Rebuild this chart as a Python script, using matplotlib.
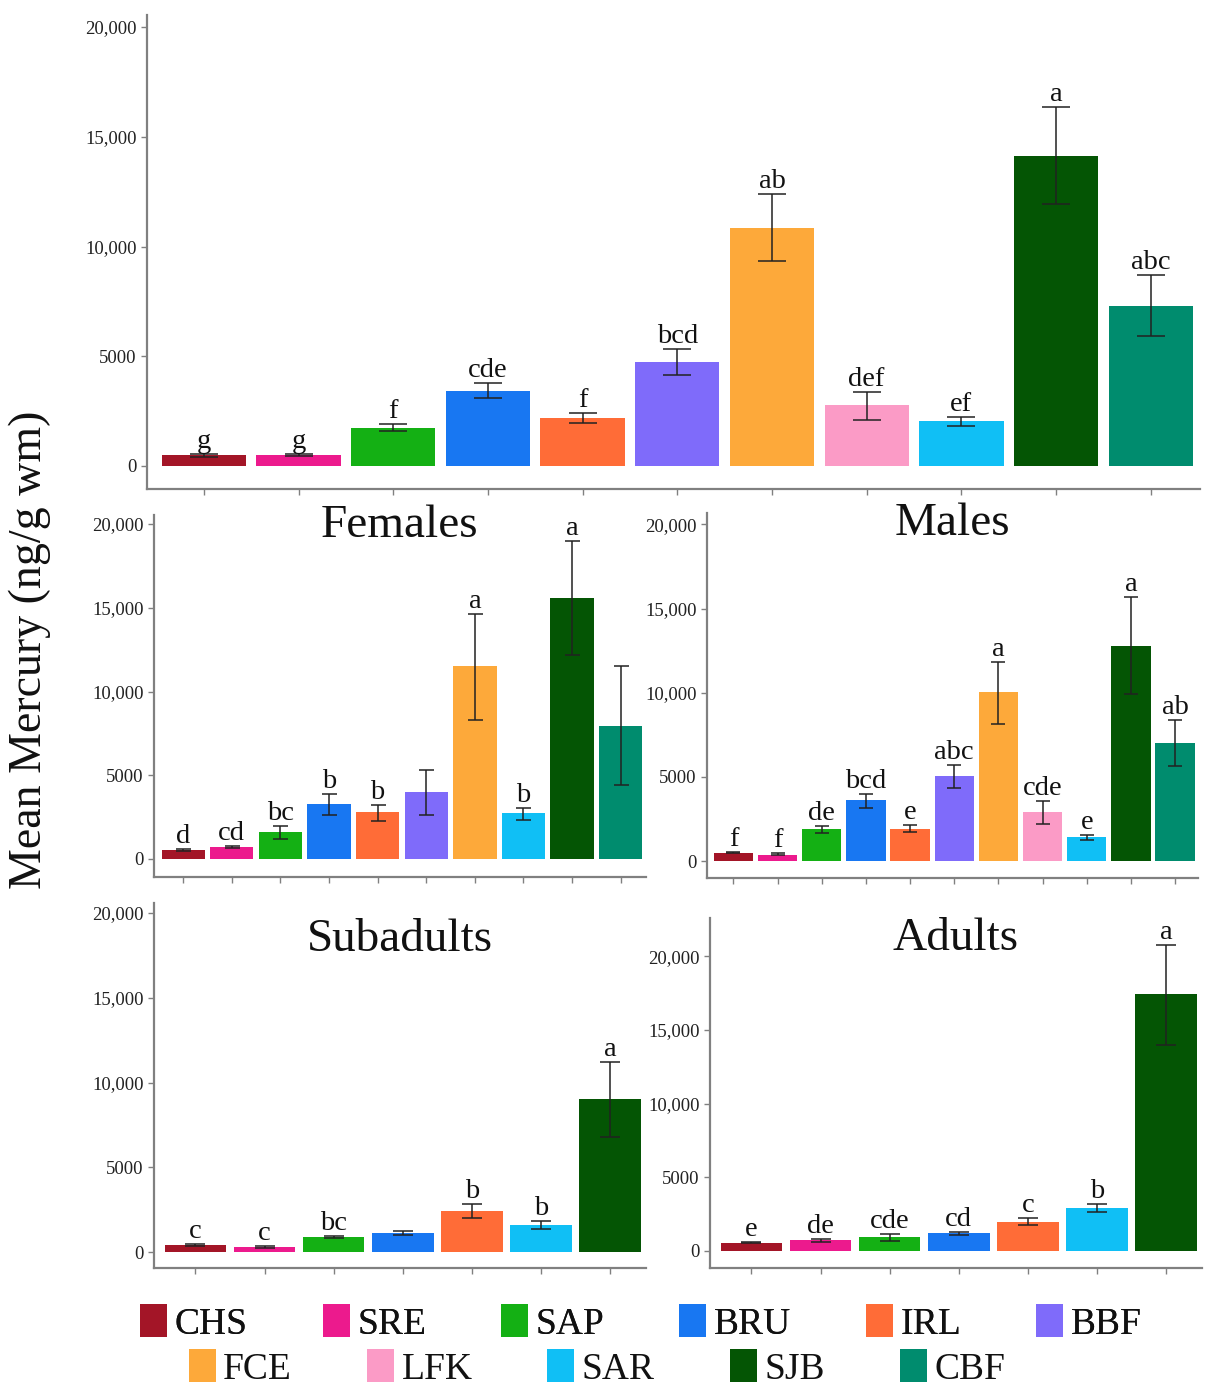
import matplotlib
matplotlib.use("Agg")
import matplotlib.pyplot as plt
from matplotlib.patches import Patch
import numpy as np

plt.rcParams['font.family'] = ['Liberation Serif', 'DejaVu Serif']

# ---------------- data ----------------
sites = ['CHS', 'SRE', 'SAP', 'BRU', 'IRL', 'BBF', 'FCE', 'LFK', 'SAR', 'SJB', 'CBF']
site_colors = {'CHS': '#A31527', 'SRE': '#EC1A8D', 'SAP': '#14B014', 'BRU': '#1877F2',
               'IRL': '#FF6C37', 'BBF': '#7F6BFA', 'FCE': '#FDA93A', 'LFK': '#FB9BC6',
               'SAR': '#10BFF5', 'SJB': '#045504', 'CBF': '#008C6E'}

# All animals
all_sites = ['CHS', 'SRE', 'SAP', 'BRU', 'IRL', 'BBF', 'FCE', 'LFK', 'SAR', 'SJB', 'CBF']
all_mean = [480, 500, 1730, 3420, 2190, 4740, 10840, 2780, 2050, 14120, 7290]
all_lo = [430, 450, 1600, 3100, 1960, 4150, 9340, 2100, 1820, 11940, 5920]
all_hi = [550, 560, 1900, 3780, 2410, 5330, 12390, 3370, 2230, 16350, 8700]
all_letters = ['g', 'g', 'f', 'cde', 'f', 'bcd', 'ab', 'def', 'ef', 'a', 'abc']

# Females
fem_sites = ['CHS', 'SRE', 'SAP', 'BRU', 'IRL', 'BBF', 'FCE', 'SAR', 'SJB', 'CBF']
fem_mean = [540, 720, 1610, 3300, 2780, 3980, 11510, 2720, 15590, 7970]
fem_lo = [500, 660, 1190, 2640, 2250, 2640, 8310, 2350, 12190, 4390]
fem_hi = [600, 780, 1950, 3880, 3240, 5290, 14630, 3040, 18970, 11550]
fem_letters = ['d', 'cd', 'bc', 'b', 'b', '', 'a', 'b', 'a', '']

# Males
male_sites = ['CHS', 'SRE', 'SAP', 'BRU', 'IRL', 'BBF', 'FCE', 'LFK', 'SAR', 'SJB', 'CBF']
male_mean = [495, 376, 1900, 3600, 1880, 5070, 10020, 2890, 1410, 12790, 6990]
male_lo = [470, 330, 1660, 3170, 1700, 4360, 8160, 2200, 1270, 9940, 5620]
male_hi = [550, 450, 2100, 4000, 2140, 5720, 11840, 3580, 1560, 15660, 8380]
male_letters = ['f', 'f', 'de', 'bcd', 'e', 'abc', 'a', 'cde', 'e', 'a', 'ab']

# Subadults
sub_sites = ['CHS', 'SRE', 'SAP', 'BRU', 'IRL', 'SAR', 'SJB']
sub_mean = [410, 295, 870, 1120, 2400, 1590, 9000]
sub_lo = [360, 255, 825, 1020, 2010, 1380, 6770]
sub_hi = [450, 335, 925, 1240, 2810, 1830, 11220]
sub_letters = ['c', 'c', 'bc', '', 'b', 'b', 'a']

# Adults
adu_sites = ['CHS', 'SRE', 'SAP', 'BRU', 'IRL', 'SAR', 'SJB']
adu_mean = [570, 725, 950, 1200, 1970, 2880, 17440]
adu_lo = [520, 635, 680, 1090, 1745, 2610, 13990]
adu_hi = [620, 815, 1180, 1290, 2245, 3200, 20790]
adu_letters = ['e', 'de', 'cde', 'cd', 'c', 'b', 'a']

yticks = [0, 5000, 10000, 15000, 20000]
ytick_labels = ['0', '5000', '10,000', '15,000', '20,000']

# ---------------- layout ----------------
W, H = 1206, 1390
fig = plt.figure(figsize=(W / 100, H / 100), dpi=100)


def pos(l, r, t, b):
    return [l / W, 1 - b / H, (r - l) / W, (b - t) / H]


spine_col = '#808080'
letter_fs = 20.5


def panel(rect, names, mean, lo, hi, letters, ylim, capsize, title=None, title_y=0.95):
    ax = fig.add_axes(rect)
    x = np.arange(len(names))
    mean = np.array(mean)
    yerr = [mean - np.array(lo), np.array(hi) - mean]
    ax.bar(x, mean, width=0.89, color=[site_colors[n] for n in names], zorder=2)
    ax.errorbar(x, mean, yerr=yerr, fmt='none', ecolor='#222222', elinewidth=1.1,
                capsize=capsize, capthick=1.1, zorder=3)
    for xi, h, lab in zip(x, hi, letters):
        if lab:
            ax.annotate(lab, (xi, h), xytext=(0, 0.0), textcoords='offset points',
                        ha='center', va='bottom', fontsize=letter_fs, color='#111111')
    ax.set_xlim(-0.6, len(names) - 1 + 0.52)
    ax.set_ylim(*ylim)
    ax.set_xticks(x)
    ax.set_xticklabels([])
    ax.set_yticks(yticks)
    ax.set_yticklabels(ytick_labels)
    for s in ['top', 'right']:
        ax.spines[s].set_visible(False)
    for s in ['left', 'bottom']:
        ax.spines[s].set_color(spine_col)
        ax.spines[s].set_linewidth(1.6)
    ax.tick_params(axis='both', colors=spine_col, length=4, width=1, labelsize=13.5,
                   labelcolor='#222222')
    if title:
        ax.text(0.5, title_y, title, transform=ax.transAxes, ha='center', va='center',
                fontsize=34, color='#111111')
    return ax


panel(pos(147, 1200, 15, 489), all_sites, all_mean, all_lo, all_hi, all_letters,
      (-1050, 20550), 10)
panel(pos(154, 646, 515, 877), fem_sites, fem_mean, fem_lo, fem_hi, fem_letters,
      (-1075, 20540), 5.4, 'Females', 0.97)
panel(pos(707, 1198, 513, 878), male_sites, male_mean, male_lo, male_hi, male_letters,
      (-1010, 20680), 4.8, 'Males', 0.97)
panel(pos(154, 646, 903, 1268), sub_sites, sub_mean, sub_lo, sub_hi, sub_letters,
      (-940, 20590), 7.5, 'Subadults', 0.9)
panel(pos(710, 1202, 918, 1268), adu_sites, adu_mean, adu_lo, adu_hi, adu_letters,
      (-1160, 22600), 7, 'Adults', 0.94)

fig.text(30 / W, 1 - 650 / H, 'Mean Mercury (ng/g wm)', rotation=90, ha='center',
         va='center', fontsize=33, color='#111111')

# ---------------- legend ----------------
handles = [Patch(facecolor=site_colors[s], edgecolor='none', label=s) for s in sites]
leg_kw = dict(frameon=False, fontsize=27, handlelength=0.72, handleheight=0.95,
              handletextpad=0.2, columnspacing=2.0, borderpad=0, labelcolor='#111111')
leg1 = fig.legend(handles=handles[:6], loc='center', ncol=6,
                  bbox_to_anchor=(641 / W, 1 - 1323 / H), **leg_kw)
fig.add_artist(leg1)
fig.legend(handles=handles[6:], loc='center', ncol=5,
           bbox_to_anchor=(597 / W, 1 - 1368 / H), **leg_kw)

fig.savefig('out.png', dpi=100, facecolor='white')
